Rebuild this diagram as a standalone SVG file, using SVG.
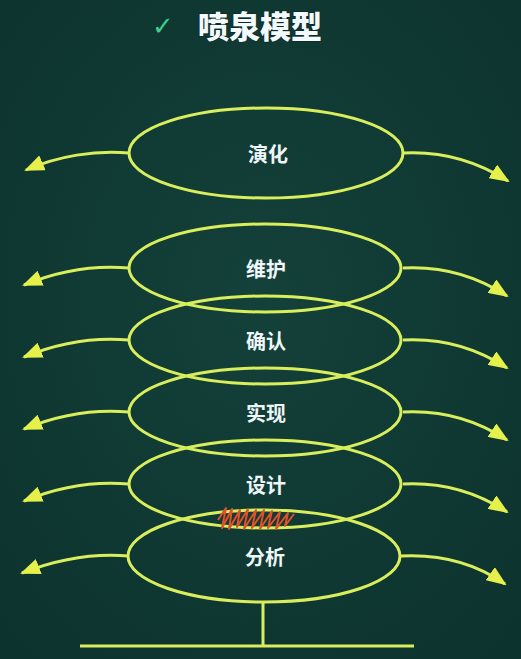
<svg xmlns="http://www.w3.org/2000/svg" width="521" height="659" viewBox="0 0 521 659">
<defs>
<radialGradient id="bg" cx="50%" cy="45%" r="70%">
<stop offset="0" stop-color="#14413a"/>
<stop offset="1" stop-color="#0d332e"/>
</radialGradient>
<marker id="ah" viewBox="0 0 20 16" refX="18" refY="8" markerWidth="20" markerHeight="16" markerUnits="userSpaceOnUse" orient="auto">
<path d="M0,0 L20,8 L0,16 Z" fill="#e6f04a"/>
</marker>
</defs>
<style>
.ell{fill:none;stroke:#d8ee5c;stroke-width:3}
.arr{fill:none;stroke:#d8ee5c;stroke-width:3;marker-end:url(#ah)}
.lbl{font-family:"Noto Sans CJK SC",sans-serif;font-weight:700;font-size:20px;fill:#eef6f8;text-anchor:middle}
.ttl{font-family:"Noto Sans CJK SC",sans-serif;font-weight:900;font-size:31px;fill:#f4f9fb;stroke:#0a2a26;stroke-width:1.5;paint-order:stroke}
.base{stroke:#d8ee5c;stroke-width:3;fill:none}
</style>
<rect width="521" height="659" fill="url(#bg)"/>
<g id="title">
<text x="152" y="35" font-family="DejaVu Sans,sans-serif" font-size="26" fill="#3fcf86">✓</text>
<text class="ttl" x="198" y="38">喷泉模型</text>
</g>
<g id="connectors">
<path class="arr" d="M129,153 C95,150 58,156 26,170"/>
<path class="arr" d="M403,153 C440,151 475,160 508,181"/>
<path class="arr" d="M129,268 C95,265 58,271 24,285"/>
<path class="arr" d="M403,268 C440,266 475,275 507,296"/>
<path class="arr" d="M129,340 C95,337 58,343 24,357"/>
<path class="arr" d="M403,340 C440,338 475,347 507,368"/>
<path class="arr" d="M129,412 C95,409 58,415 24,429"/>
<path class="arr" d="M403,412 C440,410 475,419 507,440"/>
<path class="arr" d="M129,484 C95,481 58,487 24,501"/>
<path class="arr" d="M403,484 C440,482 475,491 507,512"/>
<path class="arr" d="M129,556 C95,553 58,559 22,573"/>
<path class="arr" d="M401,556 C440,554 475,563 505,584"/>
<path class="base" d="M263,602 V646 M80,646 H414"/>
</g>
<g id="n-yanhua"><ellipse class="ell" cx="266" cy="153" rx="137" ry="45"/><text class="lbl" x="268" y="162">演化</text></g>
<g id="n-weihu"><ellipse class="ell" cx="265" cy="268" rx="136" ry="44"/><text class="lbl" x="266" y="277">维护</text></g>
<g id="n-queren"><ellipse class="ell" cx="265" cy="340" rx="136" ry="44"/><text class="lbl" x="266" y="349">确认</text></g>
<g id="n-shixian"><ellipse class="ell" cx="265" cy="412" rx="136" ry="44"/><text class="lbl" x="266" y="421">实现</text></g>
<g id="n-sheji"><ellipse class="ell" cx="265" cy="484" rx="136" ry="44"/><text class="lbl" x="266" y="493">设计</text></g>
<g id="n-fenxi"><ellipse class="ell" cx="264" cy="556" rx="136" ry="46"/><text class="lbl" x="265" y="565">分析</text></g>
<path d="M218,520 L226,508 L222,528 L232,509 L229,529 L240,510 L237,527 L248,509 L244,529 L256,510 L252,528 L264,510 L260,529 L272,511 L268,528 L280,512 L276,529 L288,513 L285,526 L294,514" fill="none" stroke="#e0502a" stroke-width="2" stroke-linejoin="round"/>
</svg>
